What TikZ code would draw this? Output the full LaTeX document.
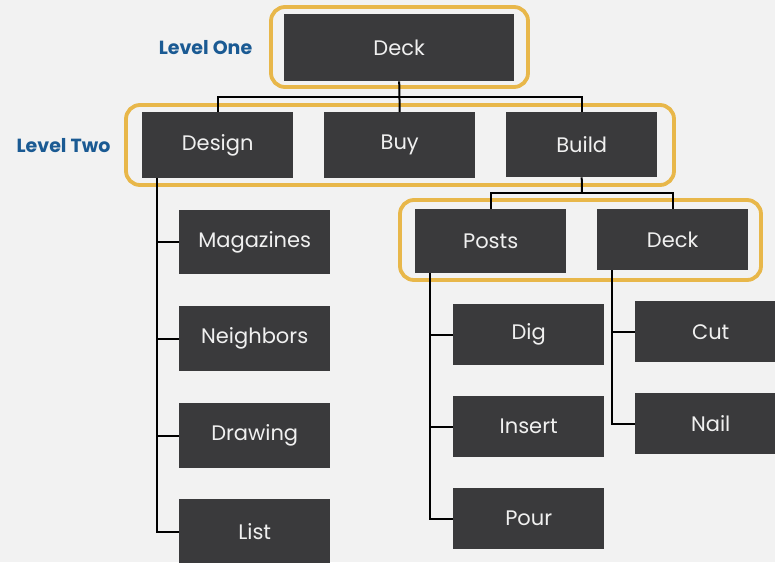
\documentclass[tikz,border=0pt]{standalone}
\usepackage{fontspec}
\setmainfont{Poppins}
\definecolor{bg}{HTML}{F2F2F2}
\definecolor{boxc}{HTML}{3A3A3C}
\definecolor{gold}{HTML}{E8B74A}
\definecolor{lvl}{HTML}{1A5A93}
\begin{document}
\begin{tikzpicture}[x=1pt,y=-1pt,
  box/.style={fill=boxc,text=white!94!black,minimum width=151pt,minimum height=65pt,inner sep=0pt,anchor=north west,font=\fontsize{21}{24}\selectfont},
  lvltext/.style={text=lvl,font=\fontsize{19}{22}\selectfont\bfseries},
  conn/.style={black,line width=2pt},
  goldbox/.style={draw=gold,line width=3.8pt,rounded corners=14pt}]
\useasboundingbox[fill=bg] (0,0) rectangle (775,562);
\clip (0,0) rectangle (775,562);
% gold group frames
\draw[goldbox] (271,7) rectangle (528,87);
\draw[goldbox] (126,105) rectangle (674,185);
\draw[goldbox] (400,200) rectangle (761,280);
% labels
\node[lvltext] (l1) at (205.5,47.5) {Level One};
\node[lvltext] (l2) at (63.5,145.5) {Level Two};
% nodes
\node[box,minimum width=230pt,minimum height=67pt] (deck) at (284,14) {Deck};
\node[box,minimum height=66pt] (design) at (142,112) {Design};
\node[box,minimum height=66pt] (buy) at (324,112) {Buy};
\node[box] (build) at (506,112) {Build};
\node[box,minimum height=64pt] (magazines) at (179,210) {Magazines};
\node[box] (neighbors) at (179,306) {Neighbors};
\node[box] (drawing) at (179,403) {Drawing};
\node[box] (list) at (179,499) {List};
\node[box,minimum height=64pt] (posts) at (415,209) {Posts};
\node[box,minimum height=61pt] (deck2) at (597,209) {Deck};
\node[box,minimum height=61pt] (dig) at (453,304) {Dig};
\node[box,minimum height=61pt] (insert) at (453,396) {Insert};
\node[box,minimum height=61pt] (pour) at (453,488) {Pour};
\node[box,minimum height=61pt] (cut) at (635,301) {Cut};
\node[box,minimum height=61pt] (nail) at (635,393) {Nail};
% bus coordinates
\coordinate (bus1) at (399,96.5);
\coordinate (bus2) at (582,193);
\coordinate (dtrunk) at (157,178);
\coordinate (ptrunk) at (430,273);
\coordinate (ktrunk) at (612,270);
% connectors
\draw[conn] (deck.south) -- (buy.north);
\draw[conn] (design.north) |- (bus1) -| (build.north);
\draw[conn] (build.south) -- (bus2);
\draw[conn] (posts.north) |- (bus2) -| (deck2.north);
\draw[conn] (dtrunk) |- (magazines.west);
\draw[conn] (dtrunk) |- (neighbors.west);
\draw[conn] (dtrunk) |- (drawing.west);
\draw[conn] (dtrunk) |- (list.west);
\draw[conn] (ptrunk) |- (dig.west);
\draw[conn] (ptrunk) |- (insert.west);
\draw[conn] (ptrunk) |- (pour.west);
\draw[conn] (ktrunk) |- (cut.west);
\draw[conn] (ktrunk) |- (nail.west);
\end{tikzpicture}
\end{document}
